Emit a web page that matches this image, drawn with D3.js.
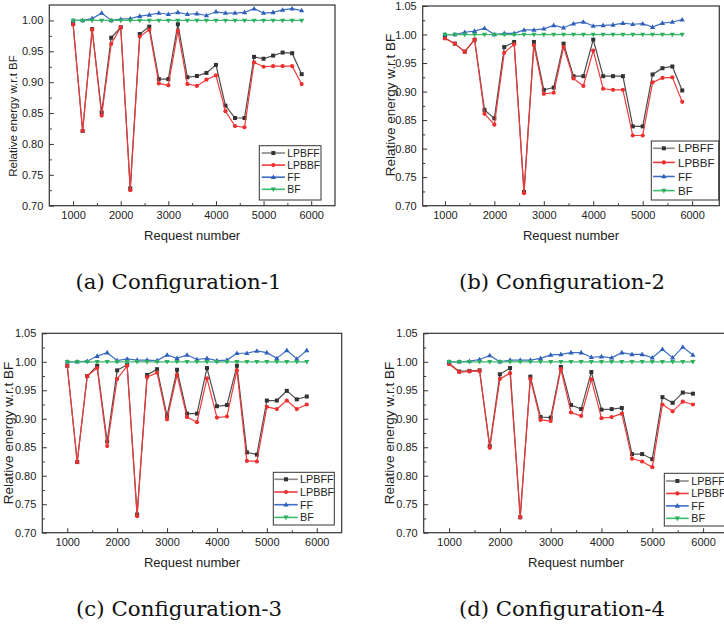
<!DOCTYPE html>
<html>
<head>
<meta charset="utf-8">
<script src="https://cdn.jsdelivr.net/npm/d3@7"></script>
<style>
  body { margin: 0; background: #fff; }
  svg { display: block; }
  .tick text { font-family: "Liberation Sans", Arial, sans-serif; fill: #222; }
</style>
</head>
<body>
<svg id="chart" width="724" height="625"></svg>
<script>
// request numbers on the x axis
var requests = [1000, 1200, 1400, 1600, 1800, 2000, 2200, 2400, 2600, 2800, 3000, 3200, 3400,
                3600, 3800, 4000, 4200, 4400, 4600, 4800, 5000, 5200, 5400, 5600, 5800];

var seriesNames = ['LPBFF', 'LPBBF', 'FF', 'BF'];
var xTicks = [1000, 2000, 3000, 4000, 5000, 6000];
var xMinor = [1500, 2500, 3500, 4500, 5500];
var yTicksA = [0.70, 0.75, 0.80, 0.85, 0.90, 0.95, 1.00];
var yTicks = [0.70, 0.75, 0.80, 0.85, 0.90, 0.95, 1.00, 1.05];
var yMinor = [0.725, 0.775, 0.825, 0.875, 0.925, 0.975, 1.025];
var captions = ['(a) Configuration-1', '(b) Configuration-2', '(c) Configuration-3', '(d) Configuration-4'];

// configuration-1
var lpbff1 = [0.994, 0.821, 0.986, 0.851, 0.972, 0.989, 0.728, 0.978, 0.990, 0.905, 0.905, 0.994, 0.908,
              0.910, 0.915, 0.928, 0.862, 0.842, 0.842, 0.941, 0.938, 0.943, 0.948, 0.947, 0.913];
var lpbbf1 = [0.994, 0.821, 0.985, 0.846, 0.962, 0.989, 0.725, 0.974, 0.985, 0.898, 0.895, 0.983, 0.897,
              0.894, 0.904, 0.911, 0.853, 0.829, 0.827, 0.932, 0.925, 0.926, 0.926, 0.926, 0.897];
var ff1 = [1.000, 1.000, 1.003, 1.012, 1.000, 1.002, 1.003, 1.007, 1.009, 1.012, 1.010, 1.013, 1.010,
           1.011, 1.008, 1.014, 1.012, 1.012, 1.013, 1.019, 1.012, 1.013, 1.017, 1.019, 1.016];
var bf1 = [1, 1, 1, 1, 1, 1, 1, 1, 1, 1, 1, 1, 1, 1, 1, 1, 1, 1, 1, 1, 1, 1, 1, 1, 1];

// configuration-2
var lpbff2 = [0.994, 0.984, 0.970, 0.991, 0.868, 0.853, 0.978, 0.987, 0.724, 0.987, 0.903, 0.907, 0.984,
              0.927, 0.927, 0.991, 0.927, 0.927, 0.927, 0.839, 0.839, 0.930, 0.941, 0.944, 0.902];
var lpbbf2 = [0.993, 0.984, 0.970, 0.991, 0.861, 0.842, 0.968, 0.983, 0.722, 0.981, 0.896, 0.898, 0.978,
              0.923, 0.910, 0.972, 0.905, 0.903, 0.903, 0.823, 0.823, 0.916, 0.924, 0.925, 0.882];
var ff2 = [1.000, 1.000, 1.004, 1.006, 1.011, 1.000, 1.002, 1.002, 1.008, 1.008, 1.010, 1.016, 1.012,
           1.019, 1.022, 1.015, 1.016, 1.017, 1.020, 1.018, 1.019, 1.013, 1.020, 1.022, 1.026];
var bf2 = [1, 1, 1, 1, 1, 1, 1, 1, 1, 1, 1, 1, 1, 1, 1, 1, 1, 1, 1, 1, 1, 1, 1, 1, 1];

// configuration-3
var lpbff3 = [0.993, 0.824, 0.975, 0.993, 0.860, 0.985, 0.995, 0.732, 0.977, 0.987, 0.905, 0.986, 0.909,
              0.909, 0.989, 0.922, 0.924, 0.993, 0.841, 0.837, 0.932, 0.932, 0.949, 0.934, 0.939];
var lpbbf3 = [0.993, 0.824, 0.975, 0.989, 0.852, 0.970, 0.993, 0.729, 0.973, 0.981, 0.899, 0.977, 0.903,
              0.894, 0.971, 0.902, 0.904, 0.985, 0.826, 0.825, 0.921, 0.917, 0.932, 0.917, 0.925];
var ff3 = [1.000, 1.000, 1.001, 1.010, 1.016, 1.002, 1.005, 1.003, 1.003, 1.002, 1.012, 1.006, 1.012,
           1.004, 1.006, 1.002, 1.003, 1.015, 1.015, 1.019, 1.016, 1.006, 1.020, 1.005, 1.020];
var bf3 = [1, 1, 1, 1, 1, 1, 1, 1, 1, 1, 1, 1, 1, 1, 1, 1, 1, 1, 1, 1, 1, 1, 1, 1, 1];

// configuration-4
var lpbff4 = [0.997, 0.983, 0.984, 0.985, 0.852, 0.978, 0.989, 0.727, 0.974, 0.903, 0.902, 0.991, 0.924,
              0.917, 0.982, 0.916, 0.917, 0.919, 0.838, 0.838, 0.829, 0.938, 0.928, 0.946, 0.944];
var lpbbf4 = [0.996, 0.982, 0.983, 0.984, 0.849, 0.970, 0.980, 0.727, 0.970, 0.898, 0.896, 0.987, 0.911,
              0.905, 0.969, 0.901, 0.903, 0.909, 0.830, 0.825, 0.815, 0.925, 0.913, 0.930, 0.925];
var ff4 = [1.000, 1.000, 1.001, 1.004, 1.011, 1.000, 1.003, 1.003, 1.003, 1.006, 1.012, 1.013, 1.016,
           1.016, 1.008, 1.009, 1.007, 1.016, 1.013, 1.013, 1.007, 1.022, 1.007, 1.026, 1.012];
var bf4 = [1, 1, 1, 1, 1, 1, 1, 1, 1, 1, 1, 1, 1, 1, 1, 1, 1, 1, 1, 1, 1, 1, 1, 1, 1];

var lineColor = { LPBFF: '#4d4d4d', LPBBF: '#f03a3a', FF: '#3d6fc4', BF: '#3dbb6e' };
var markColor = { LPBFF: '#333333', LPBBF: '#ee2f2f', FF: '#2f5fb8', BF: '#2fae5f' };

var panels = [
  { data: [lpbff1, lpbbf1, ff1, bf1], left: 49.3, right: 335, top: 5, bottom: 205.7,
    yMax: 1.025, xMin: 500, xMax: 6500, yt: yTicksA, ylx: 12.5, yly: 116, ylSize: 11.5,
    xly: 239.5, capX: 178.5, capY: 289,
    leg: { x: 259.3, y: 145.7, w: 61.7, h: 54.3, row0: 153, step: 12.1, l0: 261.7, l1: 285, tx: 287.3, fs: 10.4 } },
  { data: [lpbff2, lpbbf2, ff2, bf2], left: 422.7, right: 719.3, top: 6, bottom: 205.7,
    yMax: 1.05, xMin: 550, xMax: 6550, yt: yTicks, ylx: 389.7, yly: 105, ylSize: 13.5,
    xly: 239.5, capX: 562, capY: 289,
    leg: { x: 651.3, y: 141, w: 67.4, h: 59, row0: 148.3, step: 14.1, l0: 653, l1: 674.7, tx: 678, fs: 11.5 } },
  { data: [lpbff3, lpbbf3, ff3, bf3], left: 42.3, right: 341.7, top: 333.3, bottom: 532.7,
    yMax: 1.05, xMin: 500, xMax: 6500, yt: yTicks, ylx: 8, yly: 433, ylSize: 13.5,
    xly: 566.5, capX: 179, capY: 616,
    leg: { x: 273.3, y: 472.3, w: 61, h: 52.7, row0: 479.3, step: 12.7, l0: 274.3, l1: 297.7, tx: 300, fs: 10.8 } },
  { data: [lpbff4, lpbbf4, ff4, bf4], left: 423.7, right: 728.5, top: 333.3, bottom: 532.7,
    yMax: 1.05, xMin: 500, xMax: 6500, yt: yTicks, ylx: 388.7, yly: 433, ylSize: 13.5,
    xly: 566.5, capX: 562, capY: 616,
    leg: { x: 664.3, y: 473.3, w: 66, h: 52.7, row0: 481, step: 12.45, l0: 666, l1: 688.7, tx: 691.3, fs: 10.8 } }
];

var svg = d3.select('#chart');
svg.append('rect').attr('width', 724).attr('height', 625).attr('fill', '#fff');

function drawMarker(g, name, cx, cy) {
  var c = markColor[name];
  if (name === 'LPBFF') {
    g.append('rect').attr('x', cx - 2).attr('y', cy - 2).attr('width', 4).attr('height', 4).attr('fill', c);
  } else if (name === 'LPBBF') {
    g.append('circle').attr('cx', cx).attr('cy', cy).attr('r', 2.1).attr('fill', c);
  } else if (name === 'FF') {
    g.append('path').attr('d', 'M' + cx + ',' + (cy - 2.8) + 'L' + (cx + 2.6) + ',' + (cy + 1.8) + 'L' + (cx - 2.6) + ',' + (cy + 1.8) + 'Z').attr('fill', c);
  } else {
    g.append('path').attr('d', 'M' + cx + ',' + (cy + 2.8) + 'L' + (cx + 2.6) + ',' + (cy - 1.8) + 'L' + (cx - 2.6) + ',' + (cy - 1.8) + 'Z').attr('fill', c);
  }
}

panels.forEach(function(p, pi) {
  var x = d3.scaleLinear().domain([p.xMin, p.xMax]).range([p.left, p.right]);
  var y = d3.scaleLinear().domain([0.70, p.yMax]).range([p.bottom, p.top]);
  var g = svg.append('g');

  // x axis, ticks pointing inward
  g.append('g').attr('transform', 'translate(0,' + p.bottom + ')')
    .call(d3.axisBottom(x).tickValues(xTicks).tickSizeInner(-4.5).tickSizeOuter(0).tickPadding(5.5).tickFormat(d3.format('d')));
  g.append('g').attr('transform', 'translate(0,' + p.bottom + ')')
    .call(d3.axisBottom(x).tickValues(xMinor).tickSizeInner(-2.5).tickSizeOuter(0).tickFormat(''));

  g.append('g').attr('transform', 'translate(' + p.left + ',0)')
    .call(d3.axisLeft(y).tickValues(p.yt).tickSizeInner(-4.5).tickSizeOuter(0).tickPadding(6).tickFormat(d3.format('.2f')));
  g.append('g').attr('transform', 'translate(' + p.left + ',0)')
    .call(d3.axisLeft(y).tickValues(yMinor.filter(function(v) { return v < p.yMax; })).tickSizeInner(-2.5).tickSizeOuter(0).tickFormat(''));

  g.selectAll('.domain').remove();
  g.selectAll('.tick line').attr('stroke', '#333').attr('stroke-width', 1);
  g.selectAll('.tick text').attr('font-size', 11);

  // series in legend order, so BF ends up on top
  seriesNames.forEach(function(name, si) {
    var vals = p.data[si];
    var line = d3.line()
      .x(function(d, i) { return x(requests[i]); })
      .y(function(d) { return y(d); });
    g.append('path').datum(vals)
      .attr('d', line)
      .attr('fill', 'none')
      .attr('stroke', lineColor[name])
      .attr('stroke-width', 1.2);
    vals.forEach(function(v, i) { drawMarker(g, name, x(requests[i]), y(v)); });
  });

  // frame
  g.append('rect')
    .attr('x', p.left).attr('y', p.top)
    .attr('width', p.right - p.left).attr('height', p.bottom - p.top)
    .attr('fill', 'none').attr('stroke', '#333').attr('stroke-width', 1.2);

  // legend
  var L = p.leg;
  g.append('rect').attr('x', L.x).attr('y', L.y).attr('width', L.w).attr('height', L.h)
    .attr('fill', '#fff').attr('stroke', '#333').attr('stroke-width', 1);
  seriesNames.forEach(function(name, i) {
    var ry = L.row0 + i * L.step;
    g.append('line').attr('x1', L.l0).attr('x2', L.l1).attr('y1', ry).attr('y2', ry)
      .attr('stroke', name === 'LPBFF' ? '#888' : lineColor[name]).attr('stroke-width', 1.6);
    drawMarker(g, name, (L.l0 + L.l1) / 2, ry);
    g.append('text').attr('x', L.tx).attr('y', ry + L.fs * 0.36)
      .attr('font-family', '"Liberation Sans", Arial, sans-serif')
      .attr('font-size', L.fs).attr('fill', '#222').text(name);
  });

  // axis titles
  g.append('text')
    .attr('transform', 'translate(' + p.ylx + ',' + p.yly + ') rotate(-90)')
    .attr('text-anchor', 'middle').attr('dy', '0.36em')
    .attr('font-family', '"Liberation Sans", Arial, sans-serif')
    .attr('font-size', p.ylSize).attr('fill', '#222')
    .text('Relative energy w.r.t BF');
  g.append('text')
    .attr('x', (p.left + Math.min(p.right, p.left + 305)) / 2).attr('y', p.xly)
    .attr('text-anchor', 'middle')
    .attr('font-family', '"Liberation Sans", Arial, sans-serif')
    .attr('font-size', 13).attr('fill', '#222')
    .text('Request number');

  // caption
  svg.append('text')
    .attr('x', p.capX).attr('y', p.capY)
    .attr('text-anchor', 'middle')
    .attr('font-family', '"DejaVu Serif", "Liberation Serif", serif')
    .attr('font-size', 21).attr('fill', '#111')
    .attr('textLength', 206).attr('lengthAdjust', 'spacingAndGlyphs')
    .text(captions[pi]);
});
</script>
</body>
</html>
